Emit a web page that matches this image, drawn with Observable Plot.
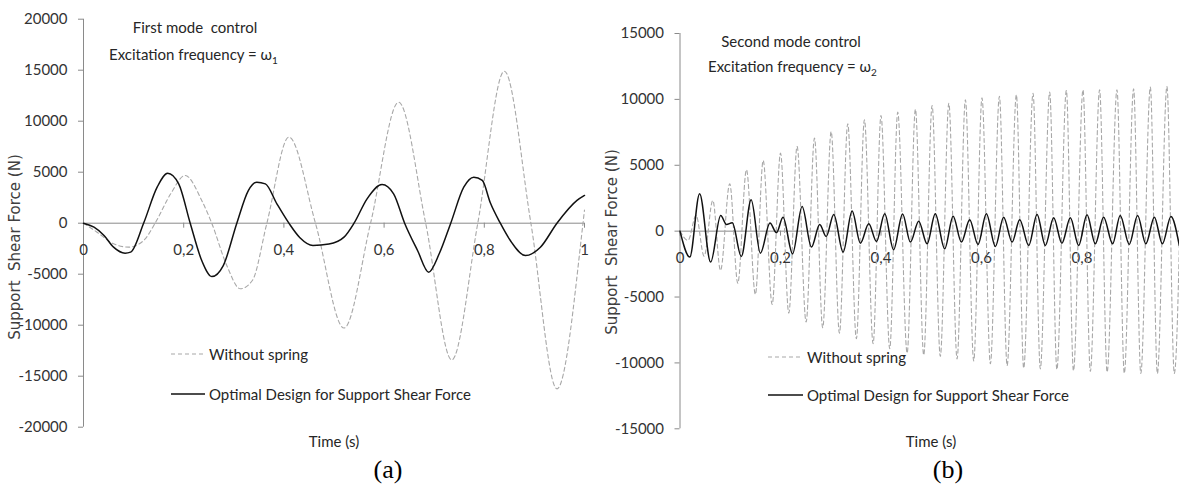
<!DOCTYPE html>
<html><head><meta charset="utf-8">
<script src="https://cdn.jsdelivr.net/npm/d3@7"></script>
<script src="https://cdn.jsdelivr.net/npm/@observablehq/plot@0.6"></script>
<style>
html,body{margin:0;padding:0;background:#fff;}
#root{position:relative;width:1179px;height:489px;overflow:hidden;font-family:Lato,sans-serif;color:#262626;}
.pa{position:absolute;top:0;width:600px;height:489px;}
.lbl{position:absolute;white-space:nowrap;font-size:15px;line-height:1;}
.c{transform:translate(-50%,-50%);}
.l{transform:translate(0,-50%);}
.yt{position:absolute;white-space:nowrap;font-family:"DejaVu Sans",sans-serif;font-size:15px;color:#404040;transform:translate(-50%,-50%) rotate(-90deg);}
.cap{position:absolute;font-family:"Liberation Serif","Times New Roman",serif;font-size:26px;transform:translate(-50%,-50%);color:#000;}
sub{font-size:10px;}
</style></head><body><div id="root"></div>
<script>
// ---- data ----
const xTicks = [0, 0.2, 0.4, 0.6, 0.8, 1];
const xTickLabels = ["0", "0,2", "0,4", "0,6", "0,8", "1"];
const yTicksA = [-20000, -15000, -10000, -5000, 0, 5000, 10000, 15000, 20000];
const yTicksB = [-15000, -10000, -5000, 0, 5000, 10000, 15000];

// Panel (a): first mode control
const tA_opt = [0, 0.021, 0.041, 0.06, 0.083, 0.094, 0.12, 0.147, 0.168, 0.19, 0.213, 0.236, 0.256, 0.279, 0.306, 0.329, 0.346, 0.363, 0.386, 0.41, 0.432, 0.458, 0.49, 0.52, 0.54, 0.566, 0.596, 0.619, 0.641, 0.667, 0.689, 0.71, 0.733, 0.759, 0.779, 0.796, 0.812, 0.832, 0.852, 0.882, 0.912, 0.945, 0.985, 1.0];
const vA_opt = [0, -390, -1200, -2350, -2940, -2840, 0, 3530, 4900, 3860, 0, -3660, -5230, -4150, 0, 3200, 4020, 3860, 1900, 0, -1430, -2190, -2050, -1370, 0, 2390, 3790, 2880, 0, -2700, -4800, -3000, 0, 3530, 4510, 4190, 2000, 0, -1700, -3170, -2350, 0, 2230, 2720];
const tA_nospring = [0, 0.027, 0.06, 0.09, 0.12, 0.143, 0.174, 0.203, 0.236, 0.256, 0.286, 0.313, 0.337, 0.366, 0.41, 0.463, 0.52, 0.573, 0.629, 0.683, 0.735, 0.787, 0.84, 0.893, 0.945, 0.997, 1.0];
const vA_nospring = [0, -880, -2020, -2350, -1700, 0, 2880, 4680, 2230, 0, -4150, -6430, -5620, 0, 8440, 0, -10280, 0, 11860, 0, -13400, 0, 14900, 0, -16240, 0, 1300];

// Panel (b): second mode control
const tB_opt = [0, 0.0195, 0.039, 0.061, 0.081, 0.0925, 0.104, 0.122, 0.1416, 0.16, 0.179, 0.192, 0.205, 0.224, 0.243, 0.2616, 0.278, 0.291, 0.306, 0.3246, 0.3425, 0.359, 0.3756, 0.391, 0.4074, 0.425, 0.443, 0.4585, 0.475, 0.4917, 0.508, 0.5268, 0.5435, 0.56, 0.5765, 0.593, 0.6097, 0.6276, 0.644, 0.661, 0.676, 0.694, 0.7106, 0.727, 0.7436, 0.76, 0.7768, 0.7933, 0.81, 0.8265, 0.843, 0.861, 0.876, 0.894, 0.9107, 0.927, 0.944, 0.96, 0.977, 0.9936];
const vB_opt = [0, -1970, 2840, -2350, 1190, 510, 640, -1920, 2380, -1670, 610, -120, 1060, -1720, 1870, -1210, 510, -400, 1270, -1590, 1520, -910, 560, -780, 1320, -1410, 1300, -830, 760, -960, 1320, -1340, 1140, -830, 860, -1010, 1320, -1160, 1060, -830, 860, -1085, 1270, -1085, 1010, -910, 1010, -1085, 1240, -960, 1060, -960, 1190, -1010, 1190, -960, 1060, -960, 1110, -1085];
const tB_nospring = [0, 0.016, 0.032, 0.048, 0.0653, 0.0806, 0.099, 0.115, 0.1323, 0.15, 0.1655, 0.1834, 0.2, 0.2165, 0.233, 0.251, 0.2676, 0.284, 0.3008, 0.3173, 0.3338, 0.351, 0.367, 0.3843, 0.4, 0.4174, 0.4333, 0.452, 0.4685, 0.485, 0.5017, 0.518, 0.535, 0.5514, 0.568, 0.5845, 0.601, 0.6177, 0.6356, 0.651, 0.6694, 0.684, 0.7026, 0.717, 0.7357, 0.75, 0.7689, 0.783, 0.802, 0.8166, 0.835, 0.85, 0.8696, 0.8842, 0.9027, 0.917, 0.936, 0.95, 0.969, 0.9837, 1.0];
const vB_nospring = [0, -700, 1200, -1900, 2330, -2980, 3600, -3950, 4660, -4800, 5360, -5560, 5920, -6220, 6430, -6900, 7060, -7330, 7560, -7740, 8150, -8160, 8450, -8540, 8780, -8920, 9030, -9250, 9250, -9400, 9540, -9500, 9710, -9700, 9970, -9850, 10120, -10060, 10240, -10200, 10350, -10400, 10470, -10450, 10550, -10500, 10680, -10600, 10730, -10650, 10730, -10700, 10730, -10780, 10800, -10800, 10930, -10800, 10980, -10800, 10900];

// ---- drawing ----
const AX = "#8a8a8a";
const FONT = 'Lato,sans-serif';
const root = document.getElementById("root");

function toRows(ts, vs) { return ts.map((t, i) => ({t, v: vs[i]})); }

function panel(o) {
  const labelIdx = xTicks.map((d, i) => i).filter(i => i < o.nXLabels);
  return Plot.plot({
    width: 600, height: 489,
    marginTop: o.mt, marginBottom: o.mb, marginLeft: o.ml, marginRight: o.mr,
    x: {domain: [0, 1], axis: null},
    y: {domain: o.yDomain, axis: null},
    style: {background: "transparent", overflow: "visible", maxWidth: "none", fontFamily: FONT},
    marks: [
      Plot.ruleY([0], {stroke: AX, strokeWidth: 1}),
      Plot.ruleX([0], {stroke: AX, strokeWidth: 1}),
      Plot.ruleY(o.yTicks, {y: d => d, x1: 0, x2: 0, insetLeft: -5, stroke: AX}),
      Plot.ruleX(xTicks, {x: d => d, y1: 0, y2: 0, insetBottom: -5, stroke: AX}),
      Plot.text(o.yTicks, {x: 0, y: d => d, text: d => String(d), textAnchor: "end", dx: -16, fontSize: 15, fill: "#333"}),
      Plot.text(labelIdx, {x: i => xTicks[i], y: 0, text: i => xTickLabels[i], dy: 27, fontSize: 15, fill: "#333"}),
      Plot.line(toRows(o.tD, o.vD), {x: "t", y: "v", curve: "monotone-x", stroke: "#a8a8a8", strokeWidth: 1.1, strokeDasharray: "4,3"}),
      Plot.line(toRows(o.tS, o.vS), {x: "t", y: "v", curve: "monotone-x", stroke: "#111", strokeWidth: 1.5})
    ]
  });
}

function addPanel(left, o) {
  const d = document.createElement("div");
  d.className = "pa";
  d.style.left = left + "px";
  d.appendChild(panel(o));
  root.appendChild(d);
}

addPanel(0, {mt: 18.7, mb: 489 - 426.7, ml: 83, mr: 16, yDomain: [-20000, 20000], yTicks: yTicksA, nXLabels: 6,
  tS: tA_opt, vS: vA_opt, tD: tA_nospring, vD: vA_nospring});
addPanel(590, {mt: 33, mb: 489 - 428.3, ml: 89.5, mr: 8, yDomain: [-15000, 15000], yTicks: yTicksB, nXLabels: 5,
  tS: tB_opt, vS: vB_opt, tD: tB_nospring, vD: vB_nospring});

function addHTML(html, cls, x, y, extra) {
  const e = document.createElement("div");
  e.className = cls;
  e.style.left = x + "px";
  e.style.top = y + "px";
  if (extra) Object.assign(e.style, extra);
  e.innerHTML = html;
  root.appendChild(e);
}
function legendLine(x1, x2, y, dashed) {
  const ns = "http://www.w3.org/2000/svg";
  const s = document.createElementNS(ns, "svg");
  s.setAttribute("width", x2 - x1);
  s.setAttribute("height", 6);
  s.style.position = "absolute";
  s.style.left = x1 + "px";
  s.style.top = (y - 3) + "px";
  const ln = document.createElementNS(ns, "line");
  ln.setAttribute("x1", 0); ln.setAttribute("x2", x2 - x1);
  ln.setAttribute("y1", 3); ln.setAttribute("y2", 3);
  ln.setAttribute("stroke", dashed ? "#a8a8a8" : "#111");
  ln.setAttribute("stroke-width", dashed ? 1.1 : 1.5);
  if (dashed) ln.setAttribute("stroke-dasharray", "4,3");
  s.appendChild(ln);
  root.appendChild(s);
}

// Panel (a) texts
addHTML("First mode&nbsp; control", "lbl c", 195, 27);
addHTML("Excitation frequency = ω<sub>1</sub>", "lbl l", 109, 56);
legendLine(171, 205, 354, true);
addHTML("Without spring", "lbl l", 209, 354);
legendLine(171, 205, 394, false);
addHTML("Optimal Design for Support Shear Force", "lbl l", 209, 394);
addHTML("Time (s)", "lbl c", 334, 441);
addHTML("Support&nbsp; Shear Force (N)", "yt", 15, 247);
addHTML("(a)", "cap", 388, 470);

// Panel (b) texts
addHTML("Second mode control", "lbl c", 791, 41);
addHTML("Excitation frequency = ω<sub>2</sub>", "lbl l", 708, 68);
legendLine(768, 802, 357, true);
addHTML("Without spring", "lbl l", 807, 357);
legendLine(768, 803, 395, false);
addHTML("Optimal Design for Support Shear Force", "lbl l", 807, 395);
addHTML("Time (s)", "lbl c", 931, 441);
addHTML("Support&nbsp; Shear Force (N)", "yt", 612, 242);
addHTML("(b)", "cap", 948, 470);
</script></body></html>
